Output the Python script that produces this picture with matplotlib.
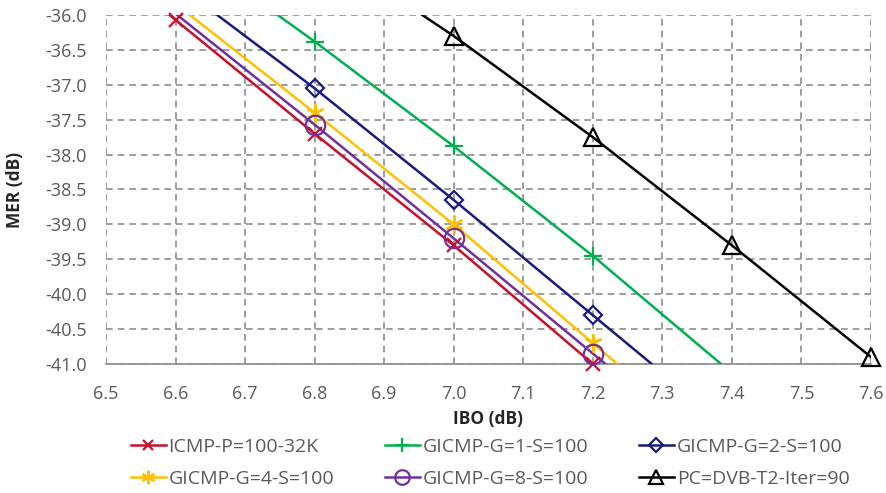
import matplotlib
matplotlib.use("Agg")
import matplotlib.pyplot as plt
from matplotlib.lines import Line2D
import numpy as np

plt.rcParams['font.family'] = ['Open Sans', 'DejaVu Sans']

labels = ["ICMP-P=100-32K", "GICMP-G=1-S=100", "GICMP-G=2-S=100",
          "GICMP-G=4-S=100", "GICMP-G=8-S=100", "PC=DVB-T2-Iter=90"]

x_red = [6.4, 6.6, 6.8, 7.0, 7.2]
y_red = [-34.40, -36.07, -37.70, -39.30, -41.00]
x_green = [6.6, 6.8, 7.0, 7.2, 7.4]
y_green = [-34.95, -36.38, -37.88, -39.45, -41.13]
x_blue = [6.6, 6.8, 7.0, 7.2, 7.4]
y_blue = [-35.55, -37.05, -38.65, -40.30, -41.95]
x_yellow = [6.6, 6.8, 7.0, 7.2, 7.4]
y_yellow = [-35.84, -37.40, -39.00, -40.70, -42.40]
x_purple = [6.6, 6.8, 7.0, 7.2, 7.4]
y_purple = [-35.98, -37.57, -39.20, -40.85, -42.50]
x_black = [6.8, 7.0, 7.2, 7.4, 7.6]
y_black = [-34.97, -36.30, -37.75, -39.30, -40.90]

xticks = [6.5, 6.6, 6.7, 6.8, 6.9, 7.0, 7.1, 7.2, 7.3, 7.4, 7.5, 7.6]
yticks = [-36.0, -36.5, -37.0, -37.5, -38.0, -38.5, -39.0, -39.5, -40.0, -40.5, -41.0]

asterisk = (6, 2, 0)
styles = [
    dict(color="#C8102E", marker="x", ms=10, mew=1.6, mfc="none"),
    dict(color="#00B050", marker="+", ms=13, mew=1.6, mfc="none"),
    dict(color="#1A1A80", marker="D", ms=9, mew=1.6, mfc="none"),
    dict(color="#FFC000", marker=asterisk, ms=13, mew=1.6, mfc="none"),
    dict(color="#7030A0", marker="o", ms=14, mew=1.6, mfc="none"),
    dict(color="#000000", marker="^", ms=13, mew=1.6, mfc="none"),
]
series = [(x_red, y_red), (x_green, y_green), (x_blue, y_blue),
          (x_yellow, y_yellow), (x_purple, y_purple), (x_black, y_black)]

fig = plt.figure(figsize=(8.86, 4.93), dpi=100)
ax = fig.add_axes([0.1196, 1 - 364 / 493, 0.8634, (364 - 15) / 493])
ymin, ymax = -41.0, -36.0
handles = []
for (xs, ys), st in zip(series, styles):
    xa, ya = np.array(xs), np.array(ys)
    m = (ya >= ymin - 0.05) & (ya <= ymax + 0.01)
    ax.plot(xa, ya, color=st["color"], lw=1.8, zorder=3)
    ax.plot(xa[m], ya[m], ls="none", clip_on=False, zorder=4, **st)

for st, lab in zip(styles, labels):
    handles.append(Line2D([], [], lw=1.8, label=lab, **st))

ax.set_xlim(6.5, 7.6)
ax.set_ylim(ymin, ymax)
ax.set_xticks(xticks)
ax.set_yticks(yticks)
ax.set_xticklabels([f"{v:.1f}" for v in xticks])
ax.set_yticklabels([f"{v:.1f}" for v in yticks])
ax.grid(True, color="#8C8C8C", ls=(0, (4, 3)), lw=1.2)
ax.set_axisbelow(True)
for s in ["top", "right", "left"]:
    ax.spines[s].set_visible(False)
ax.spines["bottom"].set_color("#8C8C8C")
ax.spines["bottom"].set_linewidth(1.2)
ax.tick_params(axis="y", length=0, labelsize=13, colors="#595959", pad=14)
ax.tick_params(axis="x", length=0, labelsize=13, colors="#595959", pad=15)
ax.set_xlabel("IBO (dB)", fontsize=12.5, fontweight="bold", color="#262626")
ax.set_ylabel("MER (dB)", fontsize=12.5, fontweight="bold", color="#262626")
ax.xaxis.set_label_coords(0.5, -(410 - 364) / 349)
ax.yaxis.set_label_coords((24 - 106) / 765, 0.5)

order = [0, 3, 1, 4, 2, 5]
leg = fig.legend([handles[i] for i in order], [labels[i] for i in order],
                 loc="center", bbox_to_anchor=(490 / 886, 1 - 463 / 493), ncol=3,
                 frameon=False, fontsize=14, handlelength=1.8, columnspacing=2.6,
                 labelcolor="#595959", handletextpad=0.15, labelspacing=0.75,
                 markerscale=0.75)
fig.savefig("out.png", dpi=100)
